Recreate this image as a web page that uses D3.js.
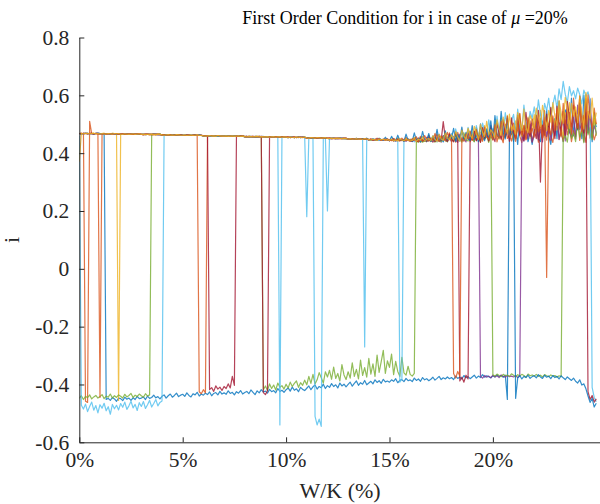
<!DOCTYPE html>
<html><head><meta charset="utf-8">
<script src="https://cdn.jsdelivr.net/npm/d3@7"></script>
<style>body{margin:0;background:#fff}svg{display:block}</style>
</head><body>
<svg id="chart" width="600" height="504"></svg>
<script>
// W/K grid (fraction), one sample every 0.1 %
const wk = d3.range(251).map(i => i / 1000);

const blue1 = [
.468,.467,.468,.469,.467,.468,.468,.467,.469,.468,
.467,.468,.467,-.452,-.448,-.455,-.445,-.450,-.458,-.447,
-.449,-.456,-.444,-.451,-.447,-.455,-.446,-.452,-.441,-.449,
-.447,-.443,-.452,-.440,-.448,-.445,-.437,-.446,-.442,-.450,
-.441,-.436,-.447,-.439,-.433,-.444,-.438,-.430,-.442,-.437,
-.434,-.441,-.429,-.438,-.443,-.432,-.436,-.427,-.440,-.433,
-.437,-.430,-.435,-.426,-.439,-.431,-.428,-.436,-.424,-.433,
-.429,-.434,-.422,-.431,-.427,-.436,-.425,-.430,-.421,-.433,
-.428,-.424,-.432,-.419,-.427,-.435,-.422,-.429,-.418,-.426,
-.423,-.430,-.417,-.425,-.421,-.429,-.414,-.424,-.420,-.427,
-.418,-.412,-.423,-.409,-.420,-.415,-.425,-.410,-.417,-.421,
-.413,-.405,-.418,-.408,-.402,-.416,-.407,-.411,-.399,-.414,
-.404,-.410,-.397,-.407,-.401,-.412,-.395,-.405,-.399,-.408,
-.400,-.392,-.406,-.396,-.388,-.403,-.394,-.399,-.386,-.401,
-.395,-.389,-.398,-.384,-.393,-.387,-.396,-.382,-.391,-.388,
-.392,-.384,-.389,-.380,-.394,-.386,-.383,-.390,-.379,-.387,
-.384,-.390,-.378,-.386,-.381,-.389,-.376,-.384,-.380,-.387,
-.382,-.375,-.385,-.379,-.372,-.383,-.377,-.381,-.374,-.380,
-.376,-.383,-.371,-.379,-.374,-.381,-.369,-.377,-.373,-.380,
-.374,-.368,-.378,-.371,-.376,-.366,-.375,-.370,-.373,-.377,
-.370,-.374,-.367,-.373,-.369,-.375,-.368,-.452,.455,.47,
.44,.49,.43,.52,.46,.45,.50,.44,.47,.43,
.48,.53,.45,.44,.51,.47,.55,.46,.43,.49,
.52,.45,.58,.48,.44,.55,.50,.47,.59,.46,
.53,.48,.57,.45,.60,.51,.47,.56,.44,.52,
.49];

const orange1 = [
.468,.467,.469,-.458,-.462,.51,.467,.466,.468,.467,
.467,.468,.466,.467,.468,.466,.467,.468,.466,.467,
.466,.465,.467,.466,.465,.466,.467,.465,.466,.465,
.465,.466,.464,.465,.466,.464,.465,.464,.466,.465,
.463,.464,.462,.463,.464,.463,.462,.463,.464,.462,
.462,.463,.461,.462,.461,.463,.462,.461,-.425,-.432,
-.418,-.429,.461,.460,.459,.461,.460,.459,.460,.461,
.459,.460,.458,.459,.460,.458,.459,.458,.460,.459,
.457,.458,.456,.457,.458,.456,.457,.458,.456,.457,
.456,.455,.457,.456,.455,.456,.457,.455,.456,.455,
.455,.454,.456,.455,.454,.455,.456,.454,.455,.454,
.453,.454,.452,.453,.454,.452,.453,.452,.454,.453,
.451,.452,.450,.451,.452,.450,.451,.452,.450,.451,
.449,.450,.448,.449,.451,.448,.449,.450,.448,.449,
.446,.449,.445,.447,.452,.446,.444,.448,.446,.450,
.443,.447,.451,.444,.442,.449,.445,.443,.455,.444,
.441,.446,.452,.439,.444,.458,.440,.447,.443,.462,
.445,.438,.451,.466,.440,.447,.459,.442,.449,.470,
.444,.455,.438,.472,.449,.441,.463,.446,.480,.440,
.452,.476,.443,.460,.437,.485,.449,.468,.441,.458,
.447,.492,.439,.471,.455,.436,.500,.451,.463,.442,
.478,.441,.505,.459,.437,.488,.446,.470,.512,.440,
.466,.494,.438,.521,.452,.476,.445,.503,.460,.437,
.489,.530,.448,.471,.441,.515,.463,.495,.440,.478,
.457,.526,.444,.490,.468,.437,.545,.452,.481,.446,
.47];

const yellow1 = [
.468,.469,.467,.468,.469,.467,.468,.469,.467,.468,
.467,.468,.469,.467,.468,.467,.469,.468,.467,-.455,
.466,.467,.465,.466,.467,.465,.466,.467,.466,.465,
.465,.464,.466,.465,.464,.466,.465,.464,.465,.466,
.463,.464,.463,.462,.464,.463,.462,.464,.463,.462,
.462,.461,.463,.462,.461,.462,.463,.461,.462,.461,
.460,.461,.459,.460,.461,.459,.460,.461,.459,.460,
.459,.458,.460,.459,.458,.459,.460,.458,.459,.458,
.457,.456,.458,.457,.456,.457,.458,.456,.457,.456,
.456,.457,.455,.456,.457,.455,.456,.455,.457,.456,
.455,.456,.454,.455,.456,.454,.455,.456,.454,.455,
.453,.452,.454,.453,.452,.453,.454,.452,.453,.452,
.451,.450,.452,.451,.450,.451,.452,.450,.451,.450,
.449,.448,.450,.449,.448,.450,.449,.448,.449,.450,
.447,.445,.449,.446,.444,.450,.446,.448,.445,.447,
.444,.448,.442,.446,.453,.443,.447,.441,.450,.444,
.448,.441,.455,.444,.450,.439,.457,.446,.442,.453,
.441,.458,.446,.439,.462,.449,.443,.467,.445,.452,
.461,.444,.470,.452,.441,.476,.455,.447,.483,.449,
.466,.442,.489,.458,.473,.445,.495,.462,.451,.480,
.456,.505,.467,.448,.520,.474,.459,.531,.462,.490,
.445,.512,.478,.536,.458,.497,.470,.525,.452,.488,
.533,.469,.505,.548,.476,.460,.522,.491,.556,.470,
.515,.480,.562,.497,.455,.540,.503,.575,.468,.521,
.549,.490,.585,.472,.530,.601,.486,.545,.463,.520,
.50];

const purple1 = [
.467,.468,.467,.469,.468,.467,.468,.467,.468,.469,
.468,.467,.468,.466,.467,.468,.467,.466,.468,.467,
.466,.465,.466,.467,.465,.466,.465,.466,.467,.465,
.465,.464,.465,.466,.465,.464,.465,.466,.464,.465,
.463,.462,.464,.463,.462,.463,.464,.462,.463,.464,
.462,.461,.462,.463,.461,.462,.461,.463,.462,.461,
.460,.459,.461,.460,.459,.460,.461,.459,.460,.459,
.459,.458,.459,.460,.458,.459,.458,.460,.459,.458,
.457,.458,.456,.457,.458,.456,.457,.456,.458,.457,
.456,.455,.456,.457,.455,.456,.455,.457,.456,.455,
.455,.454,.455,.456,.454,.455,.454,.456,.455,.454,
.453,.454,.452,.453,.454,.453,.452,.454,.453,.452,
.451,.450,.451,.452,.450,.451,.450,.452,.451,.450,
.449,.448,.449,.450,.448,.449,.450,.448,.449,.448,
.446,.448,.445,.447,.449,.444,.446,.448,.445,.447,
.443,.446,.449,.442,.445,.448,.443,.447,.441,.446,
.444,.440,.449,.443,.452,.439,.446,.441,.455,.442,
.447,.439,.456,.443,.450,.438,.461,.445,.440,.452,
.440,.458,.445,.437,.466,.443,.452,.439,.470,.446,
.455,.441,.472,.449,-.372,-.378,-.369,-.375,-.371,-.377,
-.368,-.374,-.370,-.376,-.367,-.372,-.375,-.369,-.373,-.371,
-.374,-.369,-.376,-.371,.456,.441,.478,.449,.500,.438,
.470,.512,.446,.483,.439,.525,.458,.492,.444,.507,
.461,.538,.447,.489,.520,.442,.551,.475,.456,.530,
.449,.566,.482,.503,.440,.540,.471,.588,.455,.495,
.47];

const green1 = [
-.448,-.439,-.452,-.441,-.446,-.436,-.450,-.443,-.438,-.447,
-.442,-.435,-.449,-.440,-.444,-.433,-.447,-.439,-.445,-.436,
-.441,-.447,-.434,-.443,-.438,-.431,-.445,-.437,-.442,-.433,
-.439,-.444,-.432,-.440,-.436,.465,.466,.464,.465,.466,
.463,.464,.462,.463,.464,.462,.463,.464,.462,.463,
.462,.461,.462,.463,.461,.462,.463,.461,.462,.461,
.460,.461,.459,.460,.461,.459,.460,.459,.461,.460,
.459,.458,.460,.459,.458,.460,.459,.458,.459,.460,
.457,.456,.458,.457,.456,.457,.458,.456,.457,-.418,
-.405,-.421,-.398,-.414,-.402,-.419,-.395,-.410,-.404,-.416,
-.399,-.412,-.392,-.407,-.396,-.388,-.410,-.394,-.403,-.385,
-.401,-.372,-.396,-.365,-.398,-.384,-.359,-.377,-.395,-.356,
-.374,-.351,-.382,-.340,-.379,-.362,-.388,-.331,-.367,-.383,
-.356,-.378,-.325,-.372,-.348,-.381,-.316,-.369,-.342,-.375,
-.310,-.364,-.329,-.372,-.298,-.358,-.321,-.282,-.362,-.318,
-.341,-.295,-.366,-.320,-.355,-.372,-.306,-.360,-.368,-.337,
-.365,-.371,-.362,.440,.439,.441,.438,.443,.440,.446,
.441,.449,.438,.452,.443,.440,.458,.445,.439,.462,
.447,.441,.465,.443,.450,.438,.470,.446,.442,.474,
.449,.439,.478,.455,.441,.483,.448,.460,.437,.490,
-.366,-.371,-.364,-.369,-.373,-.365,-.370,-.367,-.372,-.363,
-.368,-.374,-.366,-.371,-.365,-.369,-.375,-.364,-.370,-.367,
-.371,-.365,-.372,-.368,-.374,-.366,-.370,-.373,-.367,-.371,
-.369,-.375,-.370,-.373,.445,.462,.438,.497,.451,.470,
.440,.515,.456,.478,.436,.530,.463,.489,.447,.540,
.46];

const cyan1 = [
.46,-.472,-.485,-.468,-.494,-.476,-.461,-.489,-.473,-.498,
-.470,-.482,-.465,-.491,-.477,-.503,-.469,-.484,-.472,-.488,
-.466,-.479,-.461,-.486,-.474,-.458,-.481,-.469,-.490,-.463,
-.476,-.459,-.483,-.470,-.455,-.478,-.466,-.452,-.474,-.462,
-.457,.462,.463,.464,.462,.463,.464,.462,.463,.462,
.462,.461,.462,.463,.461,.462,.461,.463,.462,.461,
.460,.461,.459,.460,.459,.461,.460,.459,.460,.461,
.459,.458,.459,.460,.458,.459,.460,.458,.459,.458,
.457,.458,.456,.457,.456,.458,.457,.456,.457,.458,
.456,.455,.456,.457,.455,.456,.455,-.54,.456,.455,
.455,.454,.455,.456,.454,.455,.454,.456,.455,.454,
.18,.454,.452,.453,-.51,-.54,-.52,-.545,.452,.453,
.20,.451,.450,.452,.451,.450,.451,.452,.450,.451,
.449,.448,.450,.449,.448,.449,.450,.448,-.27,.449,
.446,.447,.445,.448,.446,.444,.447,.445,.449,.446,
.444,.446,.443,.448,.445,-.392,-.381,.447,.443,.450,
.442,.448,.439,.453,.444,.441,.457,.446,.440,.451,
.444,.461,.447,.439,.466,.450,.442,.472,.446,.455,
.468,.445,.484,.452,.442,.478,.460,.447,.489,.455,
.473,.450,.495,.462,.446,.504,.476,.455,.515,.468,
.485,.450,.528,.472,.497,.456,.540,.488,.466,.512,
.534,.470,.552,.495,.478,.566,.508,.489,.545,.520,
.560,.512,.584,.535,.498,.572,.547,.590,.526,.568,
.601,.556,.622,.585,.648,.604,.575,.630,.598,.616,
.588,.625,.603,.570,.618,.596,.612,.585,-.41,-.445,
-.46];

const red1 = [
.468,.467,.469,.468,.467,.468,.469,.467,.468,.467,
.467,.468,.466,.467,.468,.467,.466,.468,.467,.466,
.466,.467,.465,.466,.465,.467,.466,.465,.466,.467,
.465,.464,.466,.465,.464,.465,.466,.464,.465,.464,
.463,.464,.462,.463,.462,.464,.463,.462,.463,.464,
.462,.461,.463,.462,.461,.462,.463,.461,.462,.463,
.460,.461,.459,-.418,-.411,-.424,-.405,-.416,-.409,-.421,
-.407,-.414,-.398,-.412,-.372,-.403,.459,.458,.460,.459,
.457,.456,.458,.457,.456,.458,.457,.456,.458,-.428,
-.435,-.422,.456,.455,.457,.456,.455,.456,.457,.455,
.455,.456,.454,.455,.456,.454,.455,.454,.456,.455,
.453,.452,.454,.453,.452,.453,.454,.452,.453,.454,
.451,.452,.450,.451,.450,.452,.451,.450,.451,.452,
.449,.450,.448,.449,.450,.448,.449,.450,.448,.449,
.446,.448,.445,.447,.446,.449,.445,.447,.446,.448,
.443,.447,.442,.445,.449,.443,.446,.442,.448,.444,
.446,.441,.450,.444,.439,.453,.442,.447,.440,.456,
.443,.451,.440,.448,.462,.444,.509,.452,.441,.466,
.449,.439,.470,.452,-.388,-.375,-.392,-.368,-.381,.455,
.447,.476,.443,.460,.438,.488,.451,.470,.442,.495,
.458,.440,.503,.466,.448,.515,.455,.479,.441,.522,
.470,.451,.530,.462,.487,.444,.541,.476,.458,.518,
.481,.450,.548,.30,.497,.462,.535,.470,.558,.489,
.450,.563,.508,.476,.545,.462,.579,.520,.491,.566,
.534,.484,.597,.520,.470,.588,-.425,-.452,-.438,-.461,
-.45];

const blue2 = [
.467,.468,.467,.468,.469,.467,.468,.467,.468,.469,
.468,.467,.466,.468,.467,.466,.468,.467,.466,.468,
.466,.465,.466,.467,.465,.466,.467,.465,.466,.465,
.465,.466,.464,.465,.466,.464,.465,.466,.464,.465,
.463,.462,.464,.463,.462,.464,.463,.462,.464,.463,
.462,.463,.461,.462,.463,.461,.462,.461,.463,.462,
.460,.459,.461,.460,.459,.460,.461,.459,.460,.459,
.459,.460,.458,.459,.460,.458,.459,.460,.458,.459,
.457,.456,.457,.458,.456,.457,.456,.458,.457,.456,
.456,.457,.455,.456,.457,.455,.456,.457,.455,.456,
.455,.454,.456,.455,.454,.455,.456,.454,.455,.456,
.453,.454,.452,.453,.452,.454,.453,.452,.454,.453,
.451,.450,.452,.451,.450,.451,.452,.450,.451,.450,
.449,.450,.448,.449,.451,.448,.449,.450,.448,.452,
.447,.445,.450,.446,.444,.452,.447,.445,.455,.446,
.443,.458,.445,.442,.462,.444,.447,.441,.466,.445,
.448,.441,.470,.444,.452,.439,.475,.446,.443,.468,
.440,.457,.445,.482,.442,.451,.439,.477,.447,.460,
.452,.486,.441,.465,.447,.490,.443,.472,.450,.444,
.495,.448,.462,.440,.501,.455,.443,.484,.452,.512,
.448,.530,.466,.452,.545,.471,.449,.520,.458,.483,
.462,-.448,-.378,-.369,-.381,-.372,-.376,-.368,-.379,-.373,
-.370,-.377,-.366,-.374,-.379,-.368,-.375,-.371,-.380,-.369,
-.376,-.372,-.381,-.370,-.377,-.383,-.374,-.380,-.386,-.378,
-.389,-.395,-.384,-.402,-.398,-.415,-.440,-.462,-.448,-.478,
-.465];

const orange2 = [
.468,.469,.467,.468,.467,.469,.468,.467,.469,.468,
-.445,.467,.468,.466,.467,.468,.466,.467,.468,.466,
.466,.467,.465,.466,.467,.465,.466,.465,.467,.466,
.465,.464,.465,.466,.464,.465,.464,.466,.465,.464,
.463,.464,.462,.463,.464,.462,.463,.462,.464,.463,
.462,.461,.462,.463,.461,.462,.461,.463,.462,.461,
.460,.461,.459,.460,.461,.459,.460,.461,.459,.460,
.459,.458,.459,.460,.458,.459,.460,.458,.459,.460,
.457,.458,.456,.457,.458,.456,.457,.458,.456,.457,
.456,.455,.457,.456,.455,.457,.456,.455,.456,.457,
.455,.456,.454,.455,.456,.454,.455,.456,.454,.455,
.453,.452,.453,.454,.452,.453,.454,.452,.453,.452,
.451,.452,.450,.451,.452,.450,.451,.450,.452,.451,
.449,.448,.450,.449,.448,.449,.450,.448,.449,.450,
.447,.449,.445,.448,.446,.450,.444,.447,.449,.445,
.446,.443,.450,.444,.447,.442,.452,.445,.443,.449,
.441,.450,.444,.457,.440,.448,.443,.461,.446,.442,
.452,.444,.468,.447,.441,.459,.449,.445,.472,.450,
.446,-.362,-.378,-.355,-.371,.453,.441,.467,.448,.476,
.444,.458,.482,.447,.463,.441,.490,.455,.449,.472,
.445,.498,.461,.452,.510,.447,.476,.527,.455,.468,
.504,.450,.482,.538,.462,.495,.448,.521,.470,.486,
.455,.532,.474,.495,.452,.547,-.03,.488,.463,.529,
.478,.556,.496,.459,.572,.505,.483,.541,.466,.590,
.512,.487,.563,.474,.531,.498,.602,.520,.485,.556,
.50];

const yellow2 = [
.37,.468,.467,.469,.468,.467,.468,.469,.467,.468,
.467,.468,.466,.467,.468,.467,.466,.468,.467,.468,
.466,.465,.467,.466,.465,.466,.467,.465,.466,.467,
.465,.466,.464,.465,.466,.464,.465,.464,.466,.465,
.463,.462,.463,.464,.462,.463,.462,.464,.463,.462,
.462,.463,.461,.462,.463,.461,.462,.463,.461,.462,
.460,.459,.460,.461,.459,.460,.459,.461,.460,.459,
.459,.460,.458,.459,.460,.458,.459,.460,.458,.459,
.457,.456,.458,.457,.456,.457,.458,.456,.457,.456,
.456,.457,.455,.456,.457,.455,.456,.457,.455,.456,
.455,.454,.456,.455,.454,.456,.455,.454,.455,.456,
.453,.452,.454,.453,.452,.454,.453,.452,.453,.454,
.451,.450,.452,.451,.450,.452,.451,.450,.451,.450,
.449,.450,.448,.449,.450,.448,.449,.448,.450,.449,
.447,.445,.448,.446,.444,.449,.446,.448,.445,.447,
.444,.448,.443,.446,.442,.450,.445,.443,.449,.444,
.446,.443,.452,.441,.449,.445,.456,.442,.448,.451,
.443,.460,.447,.441,.465,.449,.444,.470,.452,.446,
.463,.448,.475,.455,.443,.480,.458,.449,.486,.462,
.451,.493,.468,.447,.500,.472,.458,.510,.463,.481,
.470,.452,.515,.483,.461,.525,.490,.468,.535,.477,
.498,.466,.540,.505,.478,.552,.489,.471,.530,.512,
.485,.556,.520,.492,.565,.531,.478,.548,.507,.575,
.527,.495,.582,.540,.503,.593,.555,.486,.572,.528,
.560,.505,.598,.535,.484,.610,.547,.520,.590,.498,
.54];

const seriesList = [blue1, orange1, yellow1, purple1, green1, cyan1, red1, blue2, orange2, yellow2];
const seriesColors = ["#0072BD","#D95319","#EDB120","#7E2F8E","#77AC30","#4DBEEE","#A2142F","#0072BD","#D95319","#EDB120"];

const xTickValues = [0, 0.05, 0.10, 0.15, 0.20];
const xTickLabels = ["0%", "5%", "10%", "15%", "20%"];
const yTickValues = [-0.6, -0.4, -0.2, 0, 0.2, 0.4, 0.6, 0.8];
const yTickLabels = ["-0.6", "-0.4", "-0.2", "0", "0.2", "0.4", "0.6", "0.8"];

(function draw() {
  const svg = d3.select("#chart");
  const pL = 79.3, pR = 600, pT = 37.5, pB = 442.3;
  const x = d3.scaleLinear().domain([0, 0.2518]).range([pL, pR]);
  const y = d3.scaleLinear().domain([-0.6, 0.8]).range([pB, pT]);
  const FONT = "'Liberation Serif','Times New Roman',serif";
  const AX = "#262626";

  svg.append("defs").append("clipPath").attr("id", "clip")
    .append("rect").attr("x", pL).attr("y", pT - 2).attr("width", pR - pL).attr("height", pB - pT + 2);

  const plot = svg.append("g").attr("clip-path", "url(#clip)");
  const line = d3.line().x((d, i) => x(wk[i])).y(d => y(d));
  seriesList.forEach((s, k) => {
    plot.append("path").datum(s)
      .attr("fill", "none")
      .attr("stroke", seriesColors[k])
      .attr("stroke-width", 1.2)
      .attr("stroke-opacity", 0.8)
      .attr("stroke-linejoin", "round")
      .attr("d", line);
  });

  const xAxis = d3.axisBottom(x).tickValues(xTickValues)
    .tickFormat((d, i) => xTickLabels[i]).tickSizeInner(-5).tickSizeOuter(0).tickPadding(9);
  const gx = svg.append("g").attr("transform", `translate(0,${pB})`).call(xAxis);
  const yAxis = d3.axisLeft(y).tickValues(yTickValues)
    .tickFormat((d, i) => yTickLabels[i]).tickSizeInner(-5).tickSizeOuter(0).tickPadding(10);
  const gy = svg.append("g").attr("transform", `translate(${pL},0)`).call(yAxis);
  [gx, gy].forEach(g => {
    g.select(".domain").attr("stroke", AX).attr("stroke-width", 1);
    g.selectAll(".tick line").attr("stroke", AX).attr("stroke-width", 1);
    g.selectAll(".tick text").attr("fill", AX).style("font-family", FONT).style("font-size", "21.5px");
  });

  svg.append("text").attr("x", 340).attr("y", 498).attr("text-anchor", "middle")
    .style("font-family", FONT).style("font-size", "22px").attr("fill", AX).text("W/K (%)");
  svg.append("text").attr("transform", "translate(19,240) rotate(-90)").attr("text-anchor", "middle")
    .style("font-family", FONT).style("font-size", "22px").attr("fill", AX).text("i");
  const title = svg.append("text").attr("x", 405).attr("y", 24).attr("text-anchor", "middle")
    .style("font-family", FONT).style("font-size", "18px").attr("fill", "#000");
  title.append("tspan").text("First Order Condition for i in case of ");
  title.append("tspan").style("font-style", "italic").text("μ");
  title.append("tspan").text(" =20%");
})();
</script>
</body></html>
